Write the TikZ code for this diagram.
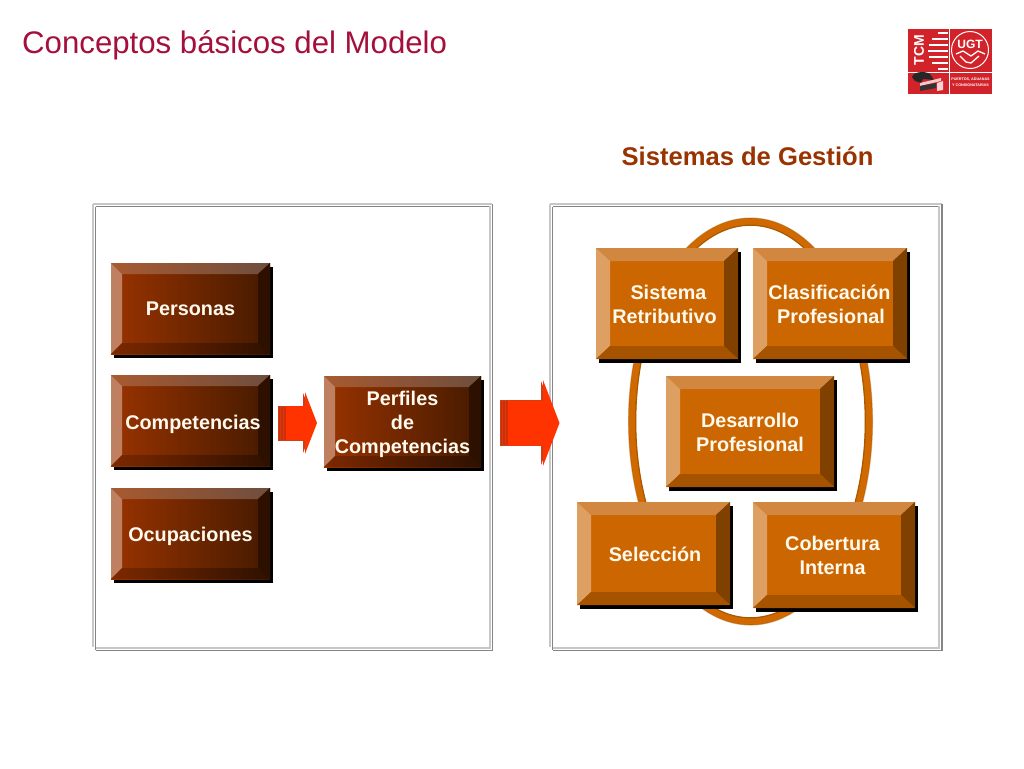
\documentclass[tikz,border=0pt]{standalone}
\usepackage{fontspec}
\setmainfont{Liberation Sans}
\definecolor{titlecol}{HTML}{A50F3C}
\definecolor{headcol}{HTML}{993300}
\definecolor{lbl}{HTML}{FFF9EE}
\definecolor{logored}{HTML}{D2232A}
\definecolor{arrowred}{HTML}{FF3300}
\definecolor{arrowdark}{HTML}{C8401E}
\definecolor{orF}{HTML}{CC6600}
\definecolor{orT}{HTML}{D1873F}
\definecolor{orL}{HTML}{DDA062}
\definecolor{orR}{HTML}{7F4000}
\definecolor{orB}{HTML}{A65300}
\definecolor{brFr}{HTML}{451A00}
\definecolor{brTl}{HTML}{A85A30}
\definecolor{brTr}{HTML}{6E4E3E}
\definecolor{brL}{HTML}{BE8060}
\definecolor{brR}{HTML}{2E1000}
\definecolor{brBl}{HTML}{7C2900}
\definecolor{brBr}{HTML}{2E1000}
\definecolor{ringtan}{HTML}{D9A36E}
\definecolor{ringdark}{HTML}{A85800}
\definecolor{ringmain}{HTML}{D06A00}
\tikzset{
  lbltext/.style={text=lbl,font=\bfseries\fontsize{19.8}{24}\selectfont,align=center,inner sep=0pt},
  frameA/.style={draw=black!22,line width=2pt},
  frameB/.style={draw=black!48,line width=1.8pt},
  blockarrow/.style={fill=arrowred,draw=none},
  blockback/.style={fill=arrowred!85!black,draw=arrowdark,line width=.6pt},
}
% brown bevel: x0 y0 x1 y1
\newcommand{\brownbox}[4]{
  \fill[black] (#1+3,#2+4) rectangle (#3+3,#4+4);
  \shade[left color=headcol,right color=brFr] (#1,#2) rectangle (#3,#4);
  \shade[left color=brTl,right color=brTr] (#1,#2) -- (#3,#2) -- (#3-12,#2+11) -- (#1+11,#2+11) -- cycle;
  \fill[brL] (#1,#2) -- (#1+11,#2+11) -- (#1+11,#4-11) -- (#1,#4) -- cycle;
  \fill[brR] (#3,#2) -- (#3-12,#2+11) -- (#3-12,#4-11) -- (#3,#4) -- cycle;
  \shade[left color=brBl,right color=brBr] (#1,#4) -- (#1+11,#4-11) -- (#3-12,#4-11) -- (#3,#4) -- cycle;
}
% orange bevel: x0 y0 x1 y1
\newcommand{\orangebox}[4]{
  \fill[black] (#1+3,#2+4) rectangle (#3+3,#4+4);
  \fill[orF] (#1,#2) rectangle (#3,#4);
  \fill[orT] (#1,#2) -- (#3,#2) -- (#3-14,#2+13) -- (#1+14,#2+13) -- cycle;
  \fill[orL] (#1,#2) -- (#1+14,#2+13) -- (#1+14,#4-13) -- (#1,#4) -- cycle;
  \fill[orR] (#3,#2) -- (#3-14,#2+13) -- (#3-14,#4-13) -- (#3,#4) -- cycle;
  \fill[orB] (#1,#4) -- (#1+14,#4-13) -- (#3-14,#4-13) -- (#3,#4) -- cycle;
}
% block arrow: x0 xbase xtip yc halfshaft halfhead
\newcommand{\blockarr}[6]{
  \foreach \d in {8,5.5,3}{
    \filldraw[blockback] (#1+8-\d,#4-#5) rectangle (#2,#4+#5);
  }
  \fill[arrowdark] (#2-2,#4-#5) -- (#2-2,#4-#6+1) -- (#3-2,#4) -- (#2-2,#4+#6-1) -- (#2-2,#4+#5) -- cycle;
  \fill[blockarrow] (#1+8,#4-#5) -- (#2,#4-#5) -- (#2,#4-#6) -- (#3,#4) -- (#2,#4+#6) -- (#2,#4+#5) -- (#1+8,#4+#5) -- cycle;
}
\begin{document}
\begin{tikzpicture}[x=1pt,y=-1pt]
\useasboundingbox (0,0) rectangle (1024,768);
\fill[white] (0,0) rectangle (1024,768);

% title
\node[anchor=west,inner sep=0pt,text=titlecol,font=\fontsize{31.2}{34}\selectfont] (title) at (22,45) {Conceptos básicos del Modelo};
\node[inner sep=0pt,text=headcol,font=\bfseries\fontsize{25.6}{28}\selectfont] (head) at (747.5,156) {Sistemas de Gestión};

% logo
\fill[logored] (907.5,29) rectangle (992,93.5);
\draw[white,line width=.6pt] (907.5,72) -- (992,72);
\draw[white,line width=.6pt] (949,29) -- (949,93.5);
\node[rotate=90,inner sep=0pt,text=white,font=\bfseries\fontsize{14}{14}\selectfont] (tcm) at (919,50) {TCM};
\foreach \yy/\xx in {33/938,39/932,45/929,51/928,57/929,63/932,69/938}{
  \draw[white,line width=1.5pt] (\xx,\yy) -- (948,\yy);
}
\draw[white,line width=1pt] (970,50) circle[radius=18.5pt];
\node[inner sep=0pt,text=white,font=\bfseries\fontsize{12}{12}\selectfont] (ugt) at (970,44) {UGT};
\draw[white,line width=1.3pt,line join=round] (956,54) -- (963,51) -- (971,56) -- (978,51) -- (985,54);
\draw[white,line width=1.3pt,line join=round] (960,56) -- (966,62) -- (971,63) -- (979,56);
\node[inner sep=0pt,text=white,align=center,font=\bfseries\fontsize{3.7}{6}\selectfont] (puertos) at (970.5,82.5) {PUERTOS, ADUANAS\\Y CONSIGNATARIAS};
\fill[black!85] (912,77) .. controls (914,71) and (926,71) .. (930,74) -- (934,80) -- (923,79) -- (921,83) -- (915,81) -- cycle;
\fill[white!75!logored] (920,83) -- (941,78) -- (941,81) -- (920,86) -- cycle;
\fill[black!80] (920,86) -- (936,83) -- (936,88) -- (920,91) -- cycle;
\fill[white!80!logored] (937,83) -- (943,81) -- (943,90) -- (937,91) -- cycle;

% panels
\draw[frameA] (92.5,203.5) -- (492,203.5);
\draw[frameB] (95.5,206.5) -- (490,206.5);
\draw[frameA] (92.5,203.5) -- (92.5,647);
\draw[frameB] (95.5,206.5) -- (95.5,650);
\draw[frameA] (95.5,647.5) -- (489.5,647.5) -- (489.5,206);
\draw[frameB] (95.5,650.5) -- (492.5,650.5) -- (492.5,203.5);

\draw[frameA] (549.5,203.5) -- (942,203.5);
\draw[frameB] (552.5,206.5) -- (940,206.5);
\draw[frameA] (549.5,203.5) -- (549.5,647);
\draw[frameB] (552.5,206.5) -- (552.5,650);
\draw[frameA] (552.5,647.5) -- (938.5,647.5) -- (938.5,206);
\draw[frameB] (552.5,650.5) -- (941.8,650.5) -- (941.8,203.5);

% oval
\draw[ringtan,line width=8pt] (750.5,421.5) ellipse[x radius=118.5pt,y radius=200pt];
\draw[ringdark,line width=7.6pt] (750.5,421.5) ellipse[x radius=118pt,y radius=199.5pt];
\draw[ringmain,line width=6pt] (750.5,421.5) ellipse[x radius=118.5pt,y radius=200pt];

% left boxes
\brownbox{111}{263}{270}{354}
\node[lbltext] (personas) at (190.5,309) {Personas};
\brownbox{111}{375}{270}{466}
\node[lbltext] (competencias) at (193,424) {Competencias};
\brownbox{111}{488}{270}{579}
\node[lbltext] (ocupaciones) at (190.5,536) {Ocupaciones};
\brownbox{324}{376}{481}{467}
\node[lbltext] (perfiles) at (402.5,424) {Perfiles\\de\\Competencias};

% arrows
\blockarr{278}{305}{317}{423}{17}{31}
\blockarr{500}{543}{559.5}{423}{22.5}{43}

% right boxes
\orangebox{596}{248}{738}{359}
\node[lbltext] (sistema) at (664.5,304) {\hspace*{8pt}Sistema\\Retributivo};
\orangebox{753}{248}{907}{359}
\node[lbltext] (clasif) at (829.5,304) {Clasificación\\\hspace*{3pt}Profesional};
\orangebox{666}{376}{834}{487}
\node[lbltext] (desarrollo) at (750,432) {Desarrollo\\Profesional};
\orangebox{577}{502}{730}{605}
\node[lbltext] (seleccion) at (655,554) {Selección};
\orangebox{753}{502}{915}{608}
\node[lbltext] (cobertura) at (832.5,555) {Cobertura\\Interna};
\end{tikzpicture}
\end{document}
